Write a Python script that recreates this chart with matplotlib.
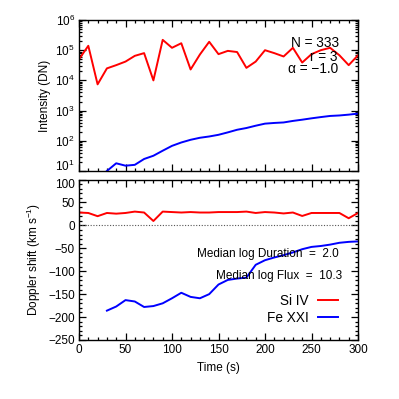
import numpy as np
import matplotlib
matplotlib.use("Agg")
import matplotlib.pyplot as plt
from matplotlib.ticker import MultipleLocator, LogLocator, NullFormatter

time = [0, 10, 20, 30, 40, 50, 60, 70, 80, 90, 100, 110, 120, 130, 140, 150,
        160, 170, 180, 190, 200, 210, 220, 230, 240, 250, 260, 270, 280, 290, 300]
si_int = [5.0e4, 1.4e5, 7.4e3, 2.5e4, 3.2e4, 4.2e4, 6.5e4, 8.0e4, 1.0e4, 2.2e5,
          1.2e5, 1.7e5, 2.3e4, 7.2e4, 1.9e5, 7.4e4, 9.5e4, 8.7e4, 2.6e4, 4.2e4,
          1.0e5, 8.0e4, 6.2e4, 1.2e5, 3.9e4, 7.4e4, 1.0e5, 1.2e5, 6.8e4, 3.2e4, 6.8e4]
fe_time = time[3:]
fe_int = [10, 18, 15, 16, 25, 32, 47, 68, 88, 108, 126, 139, 158, 190, 232, 265,
          316, 370, 390, 405, 455, 500, 555, 610, 665, 690, 735, 795]
si_dop = [28, 27, 20, 27, 25.5, 27, 30, 28, 9.5, 30, 29, 28, 29, 28, 28, 29,
          29, 29, 30, 27, 29, 28, 26, 28, 20.5, 27, 27, 27, 27, 15.5, 27]
fe_dop = [-186, -177, -163, -166, -178, -176, -170, -159, -147, -156, -159, -150,
          -129, -119, -116, -114, -86, -76, -70, -65, -59, -52, -47, -45, -42,
          -38, -36, -35]
dop_ticks = [100, 50, 0, -50, -100, -150, -200, -250]

fs = 8.5
plt.rcParams['font.family'] = ['Liberation Sans', 'DejaVu Sans']
plt.rcParams['mathtext.fontset'] = 'custom'
plt.rcParams['mathtext.rm'] = 'Liberation Sans'
plt.rcParams['mathtext.it'] = 'Liberation Sans'

fig = plt.figure(figsize=(3.99, 3.99), dpi=100)
W = H = 399.0
def rect(x0, y0, x1, y1):
    return [x0 / W, 1 - y1 / H, (x1 - x0) / W, (y1 - y0) / H]

ax1 = fig.add_axes(rect(79, 20, 358, 171))
ax2 = fig.add_axes(rect(79, 179.5, 358, 340))

red = '#ff0000'
blue = '#0000ff'
lw = 1.4

ax1.plot(time, si_int, color=red, lw=lw)
ax1.plot(fe_time, fe_int, color=blue, lw=lw)
ax1.set_yscale('log')
ax1.set_ylim(10, 1e6)
ax1.set_xlim(0, 300)
ax1.yaxis.set_major_locator(LogLocator(base=10, numticks=10))
ax1.yaxis.set_minor_locator(LogLocator(base=10, subs=np.arange(2, 10), numticks=20))
ax1.yaxis.set_minor_formatter(NullFormatter())
ax1.set_ylabel('Intensity (DN)', fontsize=fs, labelpad=3)
ax1.set_xticklabels([])

ax2.plot(time, si_dop, color=red, lw=lw, label='Si IV')
ax2.plot(fe_time, fe_dop, color=blue, lw=lw, label='Fe XXI')
ax2.axhline(0, color='#555555', lw=0.8, ls=(0, (1, 1.5)))
ax2.set_xlim(0, 300)
ax2.set_ylim(-250, 100)
ax2.yaxis.set_minor_locator(MultipleLocator(10))
ax2.set_ylabel('Doppler shift (km s$^{-1}$)', fontsize=fs, labelpad=4)
ax2.set_xlabel('Time (s)', fontsize=fs, labelpad=4)
ax2.set_yticks(dop_ticks)
ax2.set_yticklabels([str(v).replace('-', '\u2212') for v in dop_ticks])

for ax in (ax1, ax2):
    ax.xaxis.set_major_locator(MultipleLocator(50))
    ax.xaxis.set_minor_locator(MultipleLocator(10))
    ax.tick_params(which='both', direction='in', top=True, right=True,
                   labelsize=fs, width=0.9, pad=3)
    ax.tick_params(which='major', length=5)
    ax.tick_params(which='minor', length=2.5)
    for s in ax.spines.values():
        s.set_linewidth(1.0)

fs2 = 9.8
ax1.text(0.932, 0.846, 'N = 333', transform=ax1.transAxes, ha='right',
         va='center', fontsize=fs2)
ax1.text(0.925, 0.757, 'r = 3', transform=ax1.transAxes, ha='right',
         va='center', fontsize=fs2)
ax1.text(0.927, 0.673, '\u03b1 = \u22121.0', transform=ax1.transAxes, ha='right',
         va='center', fontsize=fs2)

ax2.text(0.932, 0.536, 'Median log Duration  =  2.0', transform=ax2.transAxes,
         ha='right', va='center', fontsize=fs)
ax2.text(0.942, 0.399, 'Median log Flux  =  10.3', transform=ax2.transAxes,
         ha='right', va='center', fontsize=fs)

leg = ax2.legend(loc='center right', bbox_to_anchor=(0.93, 0.19), frameon=False,
                 fontsize=fs2, markerfirst=False, handlelength=1.5,
                 handletextpad=0.7, labelspacing=0.2, borderaxespad=0,
                 borderpad=0)
for t in leg.get_texts():
    t.set_ha('right')

# nudge the edge labels apart as in the reference
fig.canvas.draw()
for tick in ax1.yaxis.get_major_ticks():
    if np.isclose(tick.get_loc(), 10):
        tick.label1.set_va('baseline')
for tick in ax2.yaxis.get_major_ticks():
    if np.isclose(tick.get_loc(), 100):
        tick.label1.set_va('top')

fig.savefig('out.png', dpi=100)
